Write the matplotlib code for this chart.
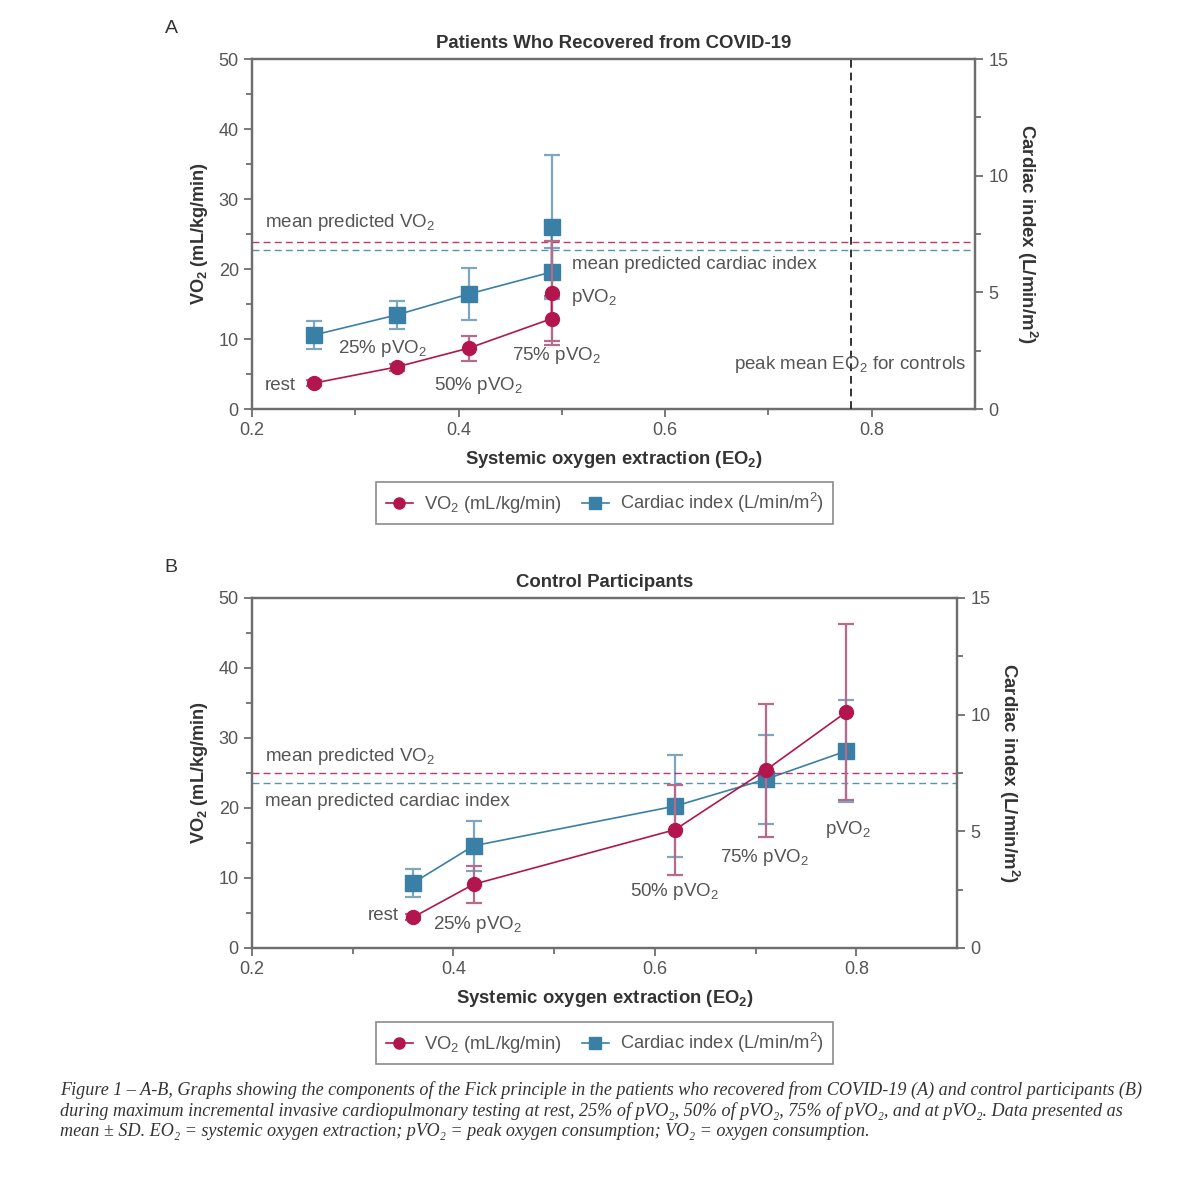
import numpy as np
import matplotlib
matplotlib.use("Agg")
import matplotlib.pyplot as plt
from matplotlib.lines import Line2D

plt.rcParams['font.family'] = ['Liberation Sans', 'DejaVu Sans']
plt.rcParams['mathtext.fontset'] = 'custom'
plt.rcParams['mathtext.rm'] = 'Liberation Sans'
plt.rcParams['mathtext.it'] = 'Liberation Sans:italic'
plt.rcParams['mathtext.bf'] = 'Liberation Sans:bold'

# ---- data ----
stages = ["rest", "25% pVO$_2$", "50% pVO$_2$", "75% pVO$_2$", "pVO$_2$"]

# A: patients who recovered from COVID-19
eo2_a = [0.26, 0.34, 0.41, 0.49, 0.49]
vo2_a = [3.7, 6.0, 8.7, 12.9, 16.6]
vo2_sd_a = [0.4, 0.5, 1.8, 3.2, 7.4]
ci_a = [3.17, 4.03, 4.93, 5.87, 7.8]
ci_sd_a = [0.6, 0.6, 1.1, 1.05, 3.1]
pred_vo2_a = 23.9
pred_ci_a = 6.8
peak_eo2_controls = 0.78

# B: control participants
eo2_b = [0.36, 0.42, 0.62, 0.71, 0.79]
vo2_b = [4.4, 9.1, 16.9, 25.4, 33.7]
vo2_sd_b = [0.4, 2.6, 6.4, 9.5, 12.6]
ci_b = [2.79, 4.38, 6.08, 7.23, 8.44]
ci_sd_b = [0.6, 1.07, 2.2, 1.9, 2.2]
pred_vo2_b = 25.0
pred_ci_b = 7.09

RED = "#b3164c"
RED_ERR = "#b86a8a"
BLUE = "#3a80a6"
BLUE_ERR = "#7ea6bf"
GRAY = "#555555"
DARK = "#333333"
SPINE = "#6e6e6e"
FS = 13.5

# label positions (x, y in data units) for each stage
lab_a = [(0.2126, 3.4), (0.283, 8.6), (0.376, 3.4), (0.452, 7.7), (0.509, 15.9)]
lab_b = [(0.315, 4.6), (0.38, 3.4), (0.575, 8.1), (0.665, 12.9), (0.769, 16.9)]


def style_axis(ax):
    for s in ax.spines.values():
        s.set_color(SPINE)
        s.set_linewidth(1.6)
    ax.tick_params(axis='both', which='both', direction='out', colors=SPINE,
                   labelcolor=GRAY, labelsize=13, width=1.3)
    ax.tick_params(which='major', length=6)
    ax.tick_params(which='minor', length=4)


def draw_panel(ax, title, eo2, vo2, vo2_sd, ci, ci_sd, pred_vo2, pred_ci, labels, pred_pos):
    ax.set_xlim(0.2, 0.9)
    ax.set_ylim(0, 50)
    ax2 = ax.twinx()
    ax2.set_ylim(0, 15)

    ax.set_xticks([0.2, 0.4, 0.6, 0.8])
    ax.set_xticks([0.3, 0.5, 0.7], minor=True)
    ax.set_xticklabels(["0.2", "0.4", "0.6", "0.8"])
    ax.set_yticks([0, 10, 20, 30, 40, 50])
    ax.set_yticks([5, 15, 25, 35, 45], minor=True)
    ax2.set_yticks([0, 5, 10, 15])
    ax2.set_yticks([2.5, 7.5, 12.5], minor=True)
    style_axis(ax)
    style_axis(ax2)

    # predicted reference lines
    ax.axhline(pred_vo2, color=RED, ls=(0, (5, 3)), lw=1.0, alpha=0.85, zorder=1)
    ax2.axhline(pred_ci, color=BLUE, ls=(0, (5, 3)), lw=1.0, alpha=0.85, zorder=1)

    ax2.errorbar(eo2, ci, yerr=ci_sd, fmt='none', ecolor=BLUE_ERR, elinewidth=1.6,
                 capsize=6, capthick=1.6, zorder=2)
    ax.errorbar(eo2, vo2, yerr=vo2_sd, fmt='none', ecolor=RED_ERR, elinewidth=1.6,
                capsize=6, capthick=1.6, zorder=2)
    ax2.plot(eo2, ci, color=BLUE, lw=1.2, marker='s', ms=11, mec=BLUE, zorder=4)
    ax.plot(eo2, vo2, color=RED, lw=1.2, marker='o', ms=10, mec=RED, zorder=4)

    for (lx, ly), name in zip(labels, stages):
        ax.text(lx, ly, name, fontsize=FS, color=GRAY, va='center', ha='left', zorder=6)

    (x1, y1), (x2, y2) = pred_pos
    ax.text(x1, y1, "mean predicted VO$_2$", fontsize=FS, color=GRAY, va='center', zorder=6)
    ax.text(x2, y2, "mean predicted cardiac index", fontsize=FS, color=GRAY, va='center', zorder=6)

    ax.set_title(title, fontsize=13.4, fontweight='bold', color=DARK, pad=8)
    ax.set_xlabel(r"Systemic oxygen extraction (EO$_\mathbf{2}$)", fontsize=13.3,
                  fontweight='bold', color=DARK, labelpad=7)
    ax.set_ylabel(r"VO$_\mathbf{2}$ (mL/kg/min)", fontsize=13.1, fontweight='bold',
                  color=DARK, labelpad=6)
    ax2.set_ylabel(r"Cardiac index (L/min/m$^\mathbf{2}$)", fontsize=13.4, fontweight='bold',
                   color=DARK, rotation=270, labelpad=22)
    ax.set_zorder(ax2.get_zorder() + 1)
    ax.patch.set_visible(False)
    return ax2


fig = plt.figure(figsize=(12, 11.84), dpi=100)
axA = fig.add_axes([252 / 1200, 1 - 409 / 1184, 723 / 1200, 350 / 1184])
axB = fig.add_axes([252 / 1200, 1 - 948 / 1184, 705 / 1200, 350 / 1184])

draw_panel(axA, "Patients Who Recovered from COVID-19", eo2_a, vo2_a, vo2_sd_a, ci_a, ci_sd_a,
           pred_vo2_a, pred_ci_a, lab_a, [(0.2126, 26.7), (0.510, 20.6)])
axA.axvline(peak_eo2_controls, color=DARK, ls=(0, (4, 2.5)), lw=1.4, zorder=3)
axA.text(0.892, 6.4, "peak mean EO$_2$ for controls", fontsize=FS, color=GRAY,
         ha='right', va='center', zorder=6)

draw_panel(axB, "Control Participants", eo2_b, vo2_b, vo2_sd_b, ci_b, ci_sd_b,
           pred_vo2_b, pred_ci_b, lab_b, [(0.213, 27.3), (0.213, 21.0)])

handles = [Line2D([], [], color=RED, marker='o', ms=8, lw=1.2),
           Line2D([], [], color=BLUE, marker='s', ms=8, lw=1.2)]
names = ["VO$_2$ (mL/kg/min)", "Cardiac index (L/min/m$^2$)"]
for yc in (1 - 503 / 1184, 1 - 1043 / 1184):
    leg = fig.legend(handles, names, loc='center', bbox_to_anchor=(0.504, yc), ncol=2,
                     fontsize=13.2, frameon=True, fancybox=False, edgecolor=SPINE,
                     handlelength=1.5, handletextpad=0.6, columnspacing=1.1, borderpad=0.5)
    leg.get_frame().set_linewidth(1.2)
    for t in leg.get_texts():
        t.set_color(GRAY)

fig.text(0.1425, 0.976, "A", fontsize=14, color=DARK, ha='center', va='center')
fig.text(0.1425, 0.521, "B", fontsize=14, color=DARK, ha='center', va='center')

caption = [
    "Figure 1 \u2013 A-B, Graphs showing the components of the Fick principle in the patients who recovered from COVID-19 (A) and control participants (B)",
    "during maximum incremental invasive cardiopulmonary testing at rest, 25% of pVO\u2082, 50% of pVO\u2082, 75% of pVO\u2082, and at pVO\u2082. Data presented as",
    "mean \u00b1 SD. EO\u2082 = systemic oxygen extraction; pVO\u2082 = peak oxygen consumption; VO\u2082 = oxygen consumption.",
]
for i, line in enumerate(caption):
    fig.text(60 / 1200, 1 - (1090 + 21 * i) / 1184, line, fontsize=13.1, style='italic',
             family=['Liberation Serif', 'DejaVu Serif'], color=DARK, va='center', ha='left')

fig.savefig("out.png", dpi=100)
